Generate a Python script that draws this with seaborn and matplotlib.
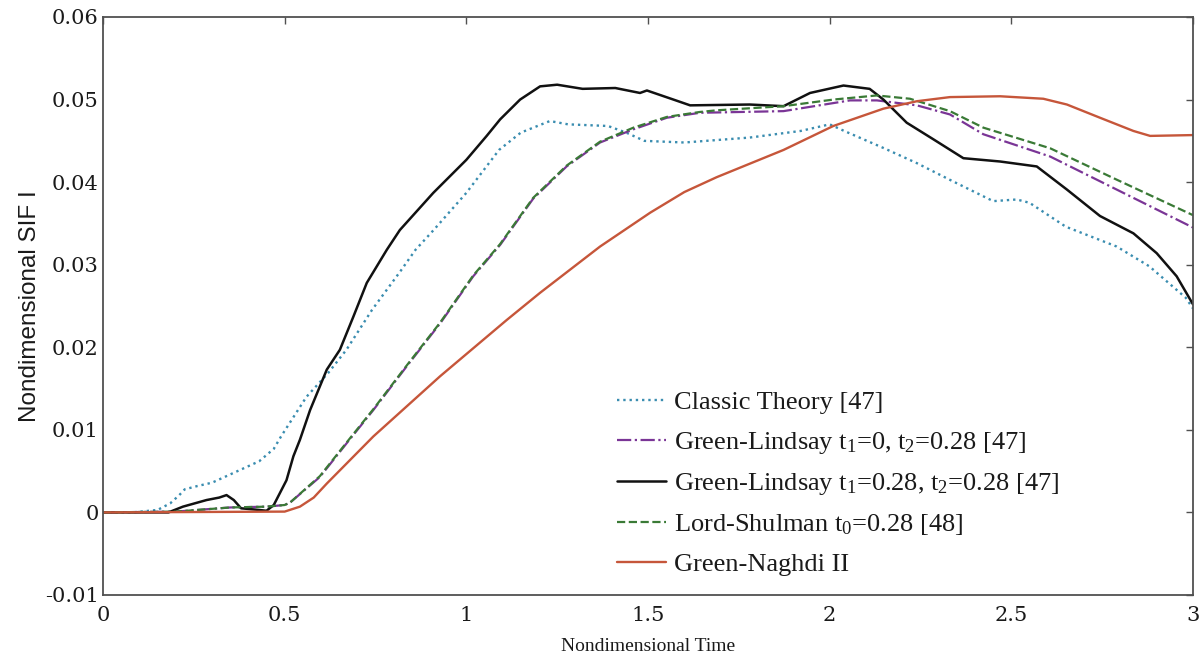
import matplotlib
matplotlib.use("Agg")
import matplotlib.pyplot as plt
import seaborn as sns
import pandas as pd

# ---- series (nondimensional time, nondimensional SIF I) ----
classic_t = [0.0, 0.08, 0.15, 0.185, 0.21, 0.225, 0.26, 0.30, 0.36, 0.43, 0.47, 0.49,
             0.56, 0.62, 0.67, 0.74, 0.82, 0.86, 0.91, 1.00, 1.09, 1.15, 1.23, 1.28,
             1.39, 1.44, 1.49, 1.60, 1.78, 1.92, 2.00, 2.04, 2.15, 2.24, 2.33, 2.45,
             2.515, 2.55, 2.65, 2.79, 2.88, 2.98, 3.00]
classic_k = [0.0, 0.0, 0.0003, 0.0011, 0.0021, 0.0028, 0.0032, 0.0036, 0.0048, 0.0062,
             0.0077, 0.0092, 0.0140, 0.0169, 0.0197, 0.0245, 0.0293, 0.0318, 0.0342,
             0.0387, 0.0439, 0.0460, 0.0474, 0.0470, 0.0468, 0.0460, 0.0450, 0.0448,
             0.0454, 0.0462, 0.0470, 0.0462, 0.0441, 0.0423, 0.0403, 0.0377, 0.0379,
             0.0375, 0.0346, 0.0322, 0.0298, 0.0260, 0.0247]

gl1_t = [0.0, 0.20, 0.35, 0.45, 0.50, 0.515, 0.597, 0.671, 0.744, 0.836, 0.928, 1.019,
         1.093, 1.184, 1.276, 1.368, 1.46, 1.552, 1.643, 1.873, 2.056, 2.13, 2.24,
         2.331, 2.423, 2.607, 2.79, 3.00]
gl1_k = [0.0, 0.0001, 0.0006, 0.0007, 0.0009, 0.0012, 0.0043, 0.0084, 0.0124, 0.0177,
         0.0229, 0.0286, 0.0324, 0.0380, 0.0419, 0.0448, 0.0464, 0.0478, 0.0484,
         0.0486, 0.0499, 0.0499, 0.0493, 0.0482, 0.0458, 0.0431, 0.0391, 0.0345]

gl2_t = [0.0, 0.18, 0.22, 0.285, 0.32, 0.34, 0.36, 0.38, 0.43, 0.45, 0.47, 0.505,
         0.524, 0.542, 0.57, 0.616, 0.652, 0.689, 0.726, 0.781, 0.817, 0.909, 1.00,
         1.056, 1.093, 1.148, 1.203, 1.25, 1.32, 1.41, 1.478, 1.497, 1.57, 1.616,
         1.78, 1.873, 1.946, 2.038, 2.11, 2.148, 2.212, 2.285, 2.368, 2.469, 2.57,
         2.653, 2.744, 2.836, 2.90, 2.955, 3.00]
gl2_k = [0.0, 0.0, 0.0007, 0.0015, 0.0018, 0.0021, 0.0015, 0.0005, 0.0003, 0.0002,
         0.0009, 0.0039, 0.0068, 0.0088, 0.0124, 0.0173, 0.0197, 0.0237, 0.0278,
         0.0318, 0.0342, 0.0387, 0.0427, 0.0456, 0.0476, 0.0500, 0.0516, 0.0518,
         0.0513, 0.0514, 0.0508, 0.0511, 0.0500, 0.0493, 0.0494, 0.0492, 0.0508,
         0.0517, 0.0513, 0.0500, 0.0472, 0.0452, 0.0429, 0.0425, 0.0419, 0.0391,
         0.0359, 0.0338, 0.0314, 0.0286, 0.0252]

ls_t = [0.0, 0.20, 0.35, 0.45, 0.50, 0.515, 0.597, 0.671, 0.744, 0.836, 0.928, 1.019,
        1.093, 1.184, 1.276, 1.368, 1.46, 1.552, 1.643, 1.689, 1.873, 2.01, 2.13,
        2.221, 2.331, 2.423, 2.607, 2.79, 3.00]
ls_k = [0.0, 0.0001, 0.0006, 0.0007, 0.0009, 0.0012, 0.0044, 0.0085, 0.0125, 0.0178,
        0.0230, 0.0287, 0.0325, 0.0381, 0.0420, 0.0449, 0.0466, 0.0479, 0.0485,
        0.0487, 0.0492, 0.0500, 0.0505, 0.0501, 0.0486, 0.0466, 0.0441, 0.0403, 0.0360]

gn_t = [0.0, 0.50, 0.542, 0.58, 0.616, 0.744, 0.928, 1.111, 1.203, 1.368, 1.506, 1.60,
        1.689, 1.873, 2.01, 2.148, 2.24, 2.331, 2.469, 2.588, 2.653, 2.744, 2.836,
        2.882, 3.00]
gn_k = [0.0, 0.0001, 0.0007, 0.0018, 0.0035, 0.0092, 0.0165, 0.0233, 0.0266, 0.0322,
        0.0363, 0.0388, 0.0406, 0.0439, 0.0468, 0.0489, 0.0498, 0.0503, 0.0504,
        0.0501, 0.0494, 0.0478, 0.0462, 0.0456, 0.0457]

labels = [
    "Classic Theory [47]",
    r"Green-Lindsay $\mathrm{t}_1$=0, $\mathrm{t}_2$=0.28 [47]",
    r"Green-Lindsay $\mathrm{t}_1$=0.28, $\mathrm{t}_2$=0.28 [47]",
    r"Lord-Shulman $\mathrm{t}_0$=0.28 [48]",
    "Green-Naghdi II",
]
colors = ["#3a8db0", "#7a3596", "#111111", "#3a7a36", "#c6563a"]
styles = [":", "-.", "-", "--", "-"]
widths = [1.7, 1.6, 1.8, 1.6, 1.7]

x_ticks = [0, 0.5, 1, 1.5, 2, 2.5, 3]
x_tick_labels = ["0", "0.5", "1", "1.5", "2", "2.5", "3"]
y_ticks = [-0.01, 0, 0.01, 0.02, 0.03, 0.04, 0.05, 0.06]
y_tick_labels = ["-0.01", "0", "0.01", "0.02", "0.03", "0.04", "0.05", "0.06"]

sns.set_style("white")
plt.rcParams.update({
    "mathtext.fontset": "custom",
    "mathtext.rm": "Liberation Serif",
    "mathtext.it": "Liberation Serif:italic",
    "axes.edgecolor": "#505050",
    "axes.linewidth": 1.3,
})

fig = plt.figure(figsize=(12.03, 6.66), dpi=100)
ax = fig.add_axes([103 / 1203, 1 - 595 / 666, 1090 / 1203, 578 / 666])

series = [(classic_t, classic_k), (gl1_t, gl1_k), (gl2_t, gl2_k), (ls_t, ls_k), (gn_t, gn_k)]
for (t, k), lab, c, st, lw in zip(series, labels, colors, styles, widths):
    df = pd.DataFrame({"t": t, "k": k})
    sns.lineplot(data=df, x="t", y="k", ax=ax, color=c, linestyle=st, linewidth=lw,
                 label=lab, estimator=None, sort=False)

ax.set_xlim(0, 3)
ax.set_ylim(-0.01, 0.06)
ax.set_xticks(x_ticks)
ax.set_xticklabels(x_tick_labels)
ax.set_yticks(y_ticks)
ax.set_yticklabels(y_tick_labels)
for s in ax.spines.values():
    s.set_visible(True)
    s.set_color("#505050")
    s.set_linewidth(1.3)

ax.tick_params(axis="both", direction="in", length=5, width=1.0, color="#505050",
               top=True, right=True, labelcolor="#1a1a1a")
ax.tick_params(axis="x", pad=8)
ax.tick_params(axis="y", pad=3)
for lbl in ax.get_xticklabels() + ax.get_yticklabels():
    lbl.set_fontfamily("DejaVu Serif")
    lbl.set_fontsize(15)

ax.set_xlabel("Nondimensional Time", fontfamily="Liberation Serif", fontsize=14,
              color="#1a1a1a", labelpad=9)
ax.set_ylabel("Nondimensional SIF I", fontfamily="Liberation Sans",
              fontsize=17.5, color="#1a1a1a", labelpad=3)

leg = ax.legend(loc="upper left", bbox_to_anchor=(0.4716, 0.353), frameon=False,
                prop={"family": "Liberation Serif", "size": 19},
                handlelength=1.85, handletextpad=0.3, labelspacing=0.58,
                borderpad=0, borderaxespad=0)
for txt in leg.get_texts():
    txt.set_color("#1a1a1a")

fig.savefig("out.png", dpi=100)
